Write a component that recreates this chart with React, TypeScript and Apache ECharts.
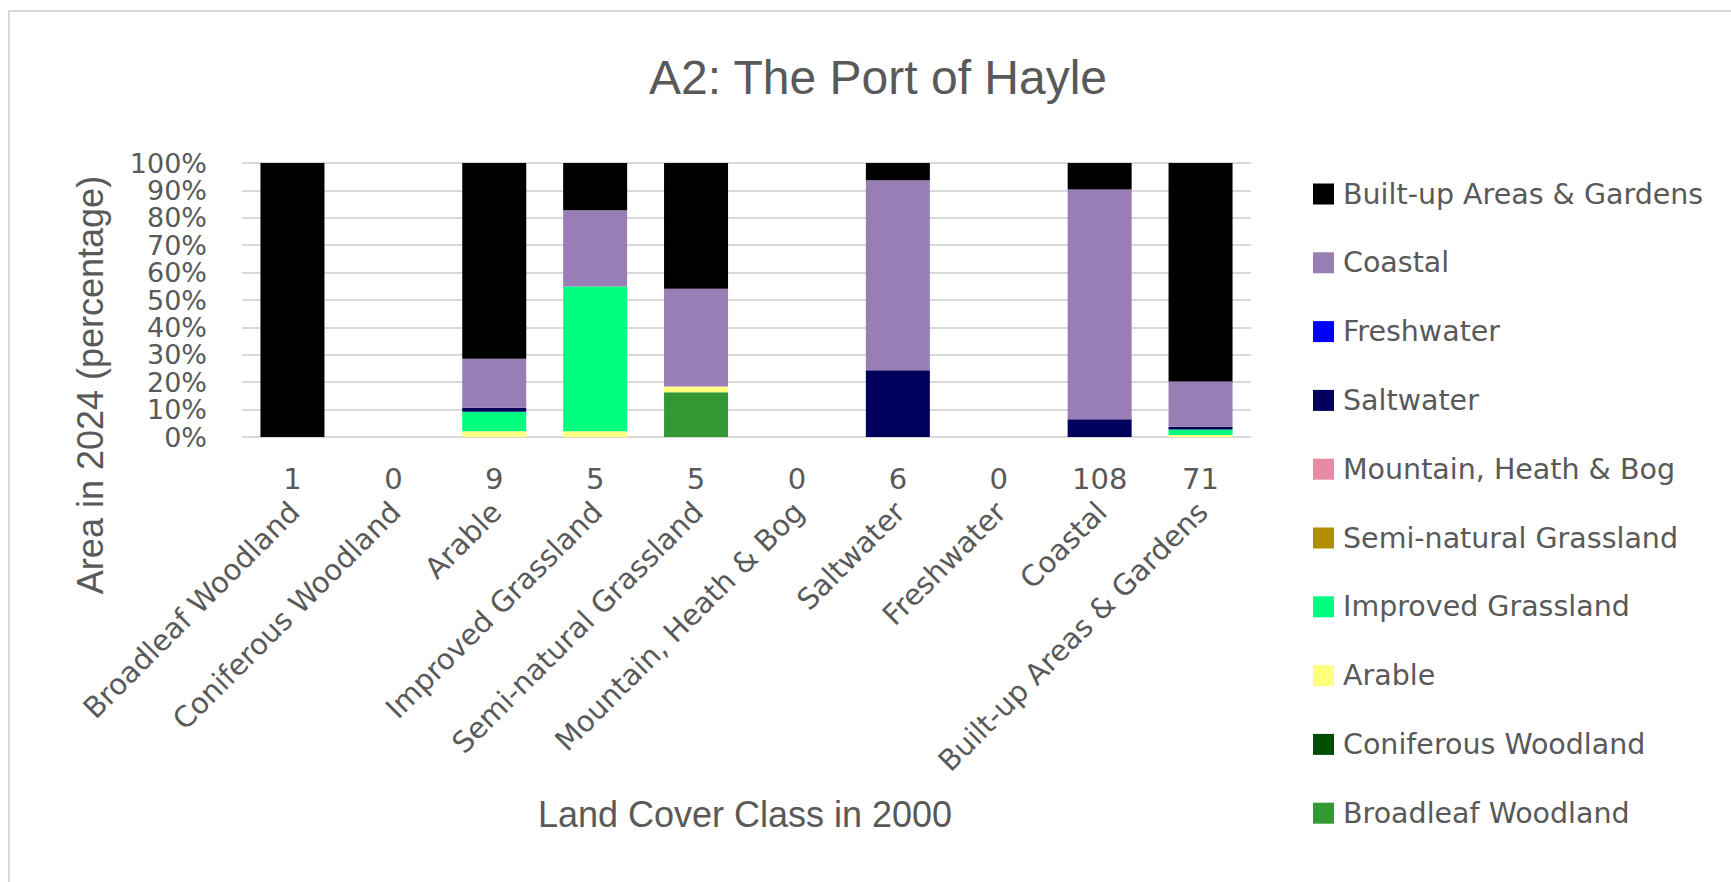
import React, { useEffect, useRef } from "react";
import * as echarts from "echarts";

const FONT = "'Liberation Sans', Arial, sans-serif";
const FONT2 = "'DejaVu Sans', sans-serif";
const TEXT = "#595959";
const GRID = "#d9d9d9";

const categories = [
  "Broadleaf Woodland",
  "Coniferous Woodland",
  "Arable",
  "Improved Grassland",
  "Semi-natural Grassland",
  "Mountain, Heath & Bog",
  "Saltwater",
  "Freshwater",
  "Coastal",
  "Built-up Areas & Gardens",
];
const counts = [1, 0, 9, 5, 5, 0, 6, 0, 108, 71];

// stacked from bottom to top (percent of area in 2024)
const broadleaf = [0, 0, 0, 0, 16.3, 0, 0, 0, 0, 0];
const coniferous = [0, 0, 0, 0, 0, 0, 0, 0, 0, 0];
const arable = [0, 0, 2.1, 2.1, 2.1, 0, 0, 0, 0, 0.7];
const improved = [0, 0, 7.1, 52.8, 0, 0, 0, 0, 0, 2.0];
const seminatural = [0, 0, 0, 0, 0, 0, 0, 0, 0, 0];
const mountain = [0, 0, 0, 0, 0, 0, 0, 0, 0, 0];
const saltwater = [0, 0, 1.5, 0, 0, 0, 24.4, 0, 6.5, 1.0];
const freshwater = [0, 0, 0, 0, 0, 0, 0, 0, 0, 0];
const coastal = [0, 0, 17.9, 27.9, 35.7, 0, 69.3, 0, 83.8, 16.6];
const builtup = [100, 0, 71.4, 17.2, 45.9, 0, 6.3, 0, 9.7, 79.7];

const seriesNames = [
  "Broadleaf Woodland",
  "Coniferous Woodland",
  "Arable",
  "Improved Grassland",
  "Semi-natural Grassland",
  "Mountain, Heath & Bog",
  "Saltwater",
  "Freshwater",
  "Coastal",
  "Built-up Areas & Gardens",
];
const seriesColors = [
  "#339933",
  "#004C00",
  "#FFFF80",
  "#00FF80",
  "#B18D00",
  "#E68BA3",
  "#00005C",
  "#0000FF",
  "#997DB5",
  "#000000",
];
const seriesData = [
  broadleaf,
  coniferous,
  arable,
  improved,
  seminatural,
  mountain,
  saltwater,
  freshwater,
  coastal,
  builtup,
];

export default function App() {
  const ref = useRef<HTMLDivElement>(null);
  useEffect(() => {
    if (!ref.current) return;
    const chart = echarts.init(ref.current, null, { renderer: "svg" });
    const option = {
      animation: false,
      textStyle: { fontFamily: FONT },
      graphic: [
        {
          type: "rect",
          z: 0,
          silent: true,
          shape: { x: 9, y: 11, width: 1800, height: 1000 },
          style: { fill: "none", stroke: GRID, lineWidth: 2 },
        },
        {
          type: "text",
          x: 878,
          y: 77,
          style: {
            text: "A2: The Port of Hayle",
            fontSize: 48,
            fontFamily: FONT,
            fill: TEXT,
            textAlign: "center",
            textVerticalAlign: "middle",
          },
        },
        {
          type: "text",
          x: 90,
          y: 385,
          rotation: Math.PI / 2,
          style: {
            text: "Area in 2024 (percentage)",
            fontSize: 36,
            fontFamily: FONT,
            fill: TEXT,
            textAlign: "center",
            textVerticalAlign: "middle",
          },
        },
        {
          type: "text",
          x: 745,
          y: 814,
          style: {
            text: "Land Cover Class in 2000",
            fontSize: 36,
            fontFamily: FONT,
            fill: TEXT,
            textAlign: "center",
            textVerticalAlign: "middle",
          },
        },
      ],
      legend: {
        orient: "vertical",
        left: 1313,
        top: 174,
        padding: 0,
        itemWidth: 21,
        itemHeight: 21,
        itemGap: 28.8,
        icon: "rect",
        data: seriesNames.slice().reverse(),
        textStyle: {
          fontSize: 28.5,
          lineHeight: 40,
          color: TEXT,
          fontFamily: FONT2,
          padding: [0, 0, 0, 4],
        },
      },
      grid: [
        { left: 242, top: 163, width: 1009, height: 274 },
        { left: 244, top: 163, width: 1009, height: 274, show: false },
      ],
      xAxis: [
        {
          type: "category",
          gridIndex: 0,
          data: categories,
          axisLine: { show: false },
          axisTick: { show: false },
          axisLabel: {
            interval: 0,
            formatter: (_v: string, i: number) => String(counts[i]),
            fontSize: 29,
            fontFamily: FONT2,
            color: TEXT,
            margin: 27,
          },
        },
        {
          type: "category",
          gridIndex: 1,
          data: categories,
          axisLine: { show: false },
          axisTick: { show: false },
          axisLabel: {
            interval: 0,
            rotate: 45,
            fontSize: 29,
            fontFamily: FONT2,
            color: TEXT,
            margin: 70,
          },
        },
      ],
      yAxis: [
        {
          type: "value",
          gridIndex: 0,
          min: 0,
          max: 100,
          interval: 10,
          axisLine: { show: false },
          axisTick: { show: false },
          axisLabel: {
            formatter: "{value}%",
            fontSize: 27,
            lineHeight: 22,
            fontFamily: FONT2,
            color: TEXT,
            margin: 35,
            showMinLabel: true,
            showMaxLabel: true,
            hideOverlap: false,
          },
          splitLine: { lineStyle: { color: GRID, width: 2 } },
        },
        { type: "value", gridIndex: 1, min: 0, max: 100, show: false },
      ],
      series: seriesNames.map((name, k) => ({
        name,
        type: "bar",
        stack: "total",
        xAxisIndex: 0,
        yAxisIndex: 0,
        barWidth: 64,
        itemStyle: { color: seriesColors[k] },
        data: seriesData[k],
      })),
    };
    chart.setOption(option as any);
    return () => chart.dispose();
  }, []);
  return (
    <div
      ref={ref}
      style={{ position: "fixed", left: 0, top: 0, width: 1731, height: 882, background: "#fff" }}
    />
  );
}
